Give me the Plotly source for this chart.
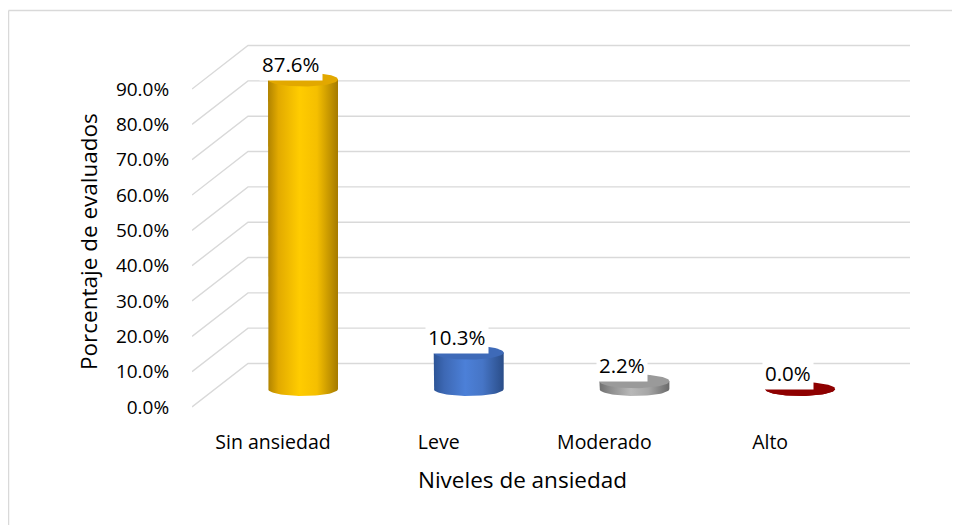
import numpy as np
import plotly.graph_objects as go

# ---- data ----
categories = ["Sin ansiedad", "Leve", "Moderado", "Alto"]
values = [87.6, 10.3, 2.2, 0.0]
tick_values = [0, 10, 20, 30, 40, 50, 60, 70, 80, 90]
tick_labels = ["0.0%", "10.0%", "20.0%", "30.0%", "40.0%", "50.0%", "60.0%", "70.0%", "80.0%", "90.0%"]
x_title = "Niveles de ansiedad"
y_title = "Porcentaje de evaluados"

# ---- style ----
body_scales = [
    [[0, "#b08300"], [0.15, "#e2aa00"], [0.45, "#ffcc00"], [0.7, "#f5bf00"], [1, "#a57a00"]],
    [[0, "#2c5496"], [0.15, "#3d68b4"], [0.45, "#4c80d8"], [0.7, "#4675c6"], [1, "#2a4d88"]],
    [[0, "#6f6f6f"], [0.15, "#8c8c8c"], [0.45, "#b8b8b8"], [0.7, "#a6a6a6"], [1, "#6a6a6a"]],
    [[0, "#7a0000"], [0.15, "#8a0000"], [0.45, "#a00000"], [0.7, "#960000"], [1, "#700000"]],
]
top_colors = ["#e2a800", "#3e6ab8", "#9a9a9a", "#8e0000"]
font_family = "'Open Sans', sans-serif"
grid_color = "#d9d9d9"

OFF = 8  # page body margin
W, H = 960 - OFF, 525 - OFF
# plot area in screen pixels: x 192..910, y 30..420
ML, MR, MT, MB = 192 - OFF, W - (910 - OFF), 30 - OFF, H - (420 - OFF)
PW, PH = W - ML - MR, H - MT - MB

px_per_unit = 3.533          # vertical pixels per percent
y0_px = 407 - OFF            # pixel of 0 on front plane
x0_px, cat_px = 273 - OFF, 165.7   # front plane category center / spacing

y_lo = (y0_px - (MT + PH)) / px_per_unit
y_hi = (y0_px - MT) / px_per_unit
x_lo = (ML - x0_px) / cat_px
x_hi = (ML + PW - x0_px) / cat_px

# depth offsets (data units)
bar_dx, bar_dy = 30 / cat_px, 18 / px_per_unit
back_dx, back_dy = 56 / cat_px, 43.5 / px_per_unit
half_w = 35 / cat_px
ell_b = 7 / px_per_unit

fig = go.Figure()

# gridlines: back wall + side-wall diagonals
gx, gy = [], []
for v in tick_values:
    gx += [x_lo, x_lo + back_dx, x_hi, None]
    gy += [v, v + back_dy, v + back_dy, None]
fig.add_trace(go.Scatter(x=gx, y=gy, mode="lines", line=dict(color=grid_color, width=1.4),
                         hoverinfo="skip", showlegend=False))

t = np.linspace(0, np.pi, 40)
tf = np.linspace(0, 2 * np.pi, 80)
for i, (cat, v) in enumerate(zip(categories, values)):
    cx = i + bar_dx
    base = bar_dy
    top = v + bar_dy
    bx = [cx - half_w] + list(cx - half_w * np.cos(t)) + [cx + half_w, cx - half_w]
    by = [top] + list(base - ell_b * np.sin(t)) + [top, top]
    fig.add_trace(go.Scatter(x=bx, y=by, mode="lines", fill="toself",
                             line=dict(width=0), fillgradient=dict(type="horizontal", colorscale=body_scales[i]),
                             hoverinfo="skip", showlegend=False))
    ex = list(cx + half_w * np.cos(tf))
    ey = list(top + ell_b * np.sin(tf))
    fig.add_trace(go.Scatter(x=ex, y=ey, mode="lines", fill="toself", fillcolor=top_colors[i],
                             line=dict(width=0), hoverinfo="skip", showlegend=False))
    fig.add_annotation(x=cx, y=top, text=f"{v:.1f}%", showarrow=False, xshift=-12, yshift=16,
                       bgcolor="white", borderpad=2, font=dict(size=20.5, color="black", family=font_family))

fig.update_xaxes(range=[x_lo, x_hi], tickvals=list(range(len(categories))), ticktext=categories,
                 showgrid=False, zeroline=False, showline=False, ticks="outside", ticklen=5,
                 tickcolor="rgba(0,0,0,0)", tickfont=dict(size=19.5, color="black", family=font_family))
fig.update_yaxes(range=[y_lo, y_hi], tickvals=tick_values, ticktext=tick_labels,
                 showgrid=False, zeroline=False, showline=False, ticks="outside", ticklen=18,
                 tickcolor="rgba(0,0,0,0)", tickfont=dict(size=19, color="black", family=font_family))

def paper_x(px):
    return (px - OFF - ML) / PW

def paper_y(py):
    return (MT + PH - (py - OFF)) / PH

fig.add_annotation(xref="paper", yref="paper", x=paper_x(88), y=paper_y(242), text=y_title,
                   xanchor="center", yanchor="middle",
                   textangle=-90, showarrow=False, font=dict(size=22.5, color="black", family=font_family))
fig.add_annotation(xref="paper", yref="paper", x=paper_x(522), y=paper_y(480), text=x_title,
                   xanchor="center", yanchor="middle",
                   showarrow=False, font=dict(size=22.5, color="black", family=font_family))

# chart area border (left and top visible)
fig.add_shape(type="line", xref="paper", yref="paper", x0=paper_x(8.5), y0=paper_y(10.5), x1=paper_x(8.5), y1=paper_y(540),
              line=dict(color="#d9d9d9", width=1.5))
fig.add_shape(type="line", xref="paper", yref="paper", x0=paper_x(8.5), y0=paper_y(10.5), x1=paper_x(975), y1=paper_y(10.5),
              line=dict(color="#d9d9d9", width=1.5))

fig.update_layout(width=W, height=H, margin=dict(l=ML, r=MR, t=MT, b=MB),
                  paper_bgcolor="white", plot_bgcolor="white", showlegend=False)
fig.write_html("out.html")
